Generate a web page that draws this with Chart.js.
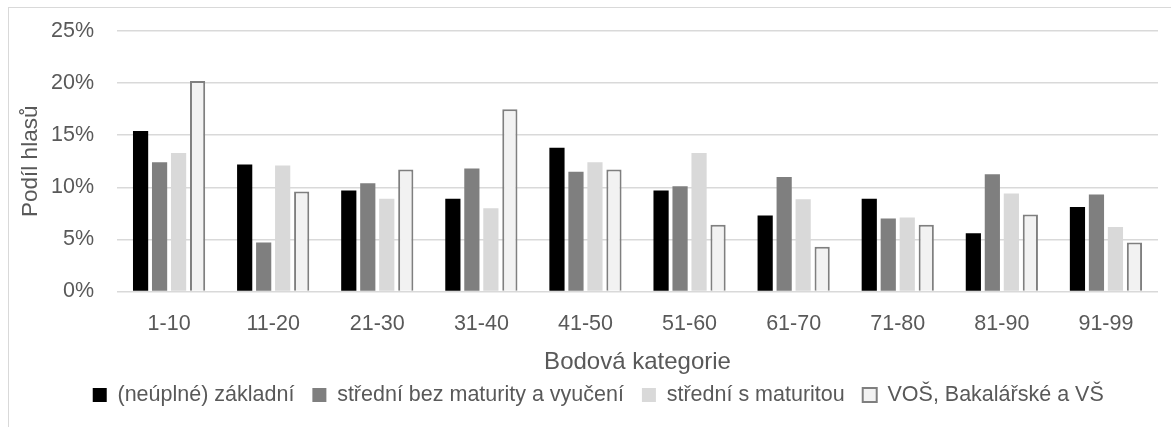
<!DOCTYPE html>
<html>
<head>
<meta charset="utf-8">
<script src="https://cdn.jsdelivr.net/npm/chart.js@4"></script>
<style>
  body { margin: 0; background: #fff; }
  #wrap { position: relative; width: 1171px; height: 427px; }
  #frame { position: absolute; left: 8px; top: 7px; right: -2px; bottom: -2px; border-left: 1px solid #d9d9d9; border-top: 1px solid #d9d9d9; }
  canvas { position: absolute; left: 0; top: 0; }
</style>
</head>
<body>
<div id="wrap">
  <div id="frame"></div>
  <canvas id="chart" width="1171" height="427"></canvas>
</div>
<script>
// Podíl hlasů (%) podle bodové kategorie a vzdělání
var categories = ["1-10", "11-20", "21-30", "31-40", "41-50", "51-60", "61-70", "71-80", "81-90", "91-99"];
var yTicks = [0, 5, 10, 15, 20, 25];

var zakladni = [15.4, 12.2, 9.7, 8.9, 13.8, 9.7, 7.3, 8.9, 5.6, 8.1];
var bezMaturity = [12.4, 4.7, 10.4, 11.8, 11.5, 10.1, 11.0, 7.0, 11.25, 9.3];
var sMaturitou = [13.3, 12.1, 8.9, 8.0, 12.4, 13.3, 8.85, 7.1, 9.4, 6.2];
var vos = [20.2, 9.6, 11.7, 17.5, 11.7, 6.4, 4.3, 6.4, 7.4, 4.7];

var font = "'Liberation Sans', Arial, sans-serif";
var textColor = "#595959";

// legend sits a bit right of the plot centre in the original
var legendShift = {
  id: "legendShift",
  afterLayout(chart) {
    chart.legend.left += 10.5;
    chart.legend.right += 10.5;
  },
};

const config = {
  type: "bar",
  data: {
    labels: categories,
    datasets: [
      { label: "(neúplné) základní", data: zakladni, backgroundColor: "#000000", borderWidth: 0 },
      { label: "střední bez maturity a vyučení", data: bezMaturity, backgroundColor: "#7f7f7f", borderWidth: 0 },
      { label: "střední s maturitou", data: sMaturitou, backgroundColor: "#d9d9d9", borderWidth: 0 },
      { label: "VOŠ, Bakalářské a VŠ", data: vos, backgroundColor: "#f2f2f2", borderColor: "#7f7f7f", borderWidth: 2 },
    ],
  },
  options: {
    responsive: false,
    animation: false,
    categoryPercentage: 0.73,
    barPercentage: 0.8,
    layout: { padding: { left: 17.5, right: 13, top: 14, bottom: 11.25 } },
    plugins: {
      legend: {
        position: "bottom",
        labels: {
          color: textColor,
          font: { family: font, size: 21.5 },
          boxWidth: 14,
          boxHeight: 14,
          padding: 18,
        },
      },
      tooltip: { enabled: false },
    },
    scales: {
      x: {
        grid: { display: false, drawTicks: false },
        border: { display: false },
        ticks: { color: textColor, font: { family: font, size: 21.5 }, padding: 19.5 },
        title: {
          display: true,
          text: "Bodová kategorie",
          color: textColor,
          font: { family: font, size: 24 },
          padding: { top: -8.7, bottom: -10.15 },
        },
      },
      y: {
        min: 0,
        max: 25,
        afterBuildTicks: function (axis) {
          axis.ticks = yTicks.map(function (v) { return { value: v }; });
        },
        grid: { color: "#d9d9d9", lineWidth: 1.5, drawTicks: false },
        border: { display: false },
        ticks: {
          color: textColor,
          font: { family: font, size: 21.5, lineHeight: 0.744 },
          padding: 23,
          callback: function (v) { return v + "%"; },
        },
        title: {
          display: true,
          text: "Podíl hlasů",
          color: textColor,
          font: { family: font, size: 22.5 },
          padding: { top: 0, bottom: -16.5 },
        },
      },
    },
  },
  plugins: [legendShift],
};

new Chart(document.getElementById("chart"), config);
</script>
</body>
</html>
